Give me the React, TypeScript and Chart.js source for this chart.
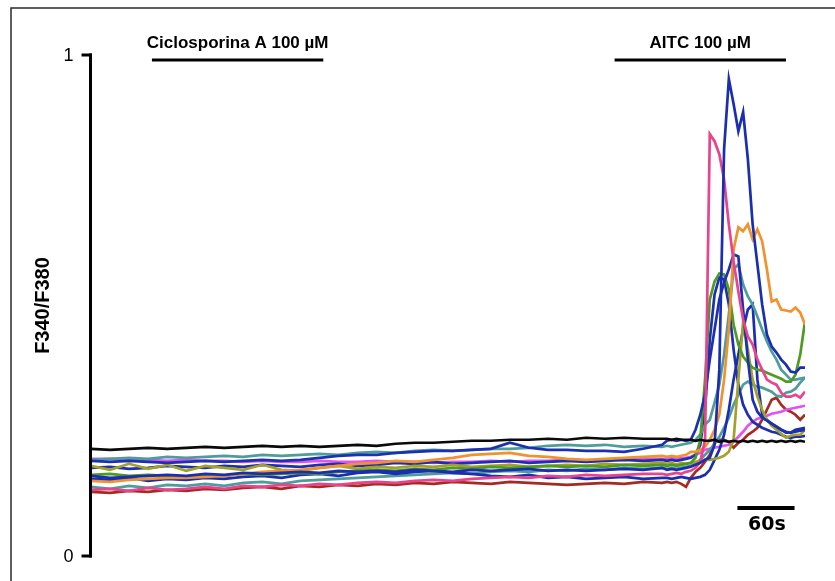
import React, { useEffect, useRef } from "react";
import { Chart, registerables } from "chart.js";

Chart.register(...registerables);

// time in seconds
const TIME = [0,20,40,60,80,100,120,140,160,180,200,220,240,260,280,300,320,340,360,380,400,420,440,460,480,500,520,540,560,580,600,
  605,610,615,620,625,630,635,640,645,650,655,660,665,670,675,680,685,690,695,700,705,710,715,720,725,730,735,740,745,750];

const BLACK = [.214,.212,.214,.216,.214,.216,.218,.216,.218,.220,.218,.220,.218,.220,.222,.220,.224,.226,.226,.228,.230,.230,.232,.232,.234,.232,.236,.234,.236,.234,.234,
  .234,.232,.234,.232,.232,.232,.230,.232,.230,.230,.232,.228,.230,.228,.230,.228,.230,.228,.230,.228,.230,.228,.230,.228,.230,.228,.230,.228,.230,.228];
const TEAL1 = [.192,.194,.196,.194,.198,.196,.198,.200,.198,.202,.200,.202,.204,.202,.206,.208,.206,.210,.212,.210,.212,.214,.214,.216,.220,.222,.220,.222,.218,.220,.218,
  .220,.218,.220,.222,.224,.226,.232,.242,.262,.272,.306,.342,.402,.482,.572,.582,.542,.518,.502,.478,.452,.428,.408,.392,.372,.362,.352,.352,.354,.356];
const MAGENTA = [.194,.194,.192,.192,.190,.192,.190,.190,.188,.190,.188,.188,.190,.188,.188,.190,.188,.188,.186,.188,.188,.190,.188,.190,.190,.192,.190,.192,.192,.194,.194,
  .194,.196,.194,.196,.196,.198,.202,.206,.212,.214,.216,.218,.220,.222,.228,.238,.248,.260,.268,.274,.276,.280,.284,.286,.288,.292,.294,.296,.298,.300];
const BLUE_B = [.190,.188,.190,.188,.186,.188,.190,.188,.190,.192,.190,.192,.196,.200,.202,.202,.206,.208,.210,.210,.212,.214,.226,.216,.212,.212,.210,.210,.208,.214,.222,
  .230,.232,.230,.232,.230,.232,.252,.282,.322,.392,.452,.512,.546,.572,.602,.598,.492,.392,.312,.288,.276,.270,.264,.258,.252,.246,.246,.248,.250,.252];
const OLIVE = [.180,.172,.184,.174,.182,.170,.180,.176,.172,.182,.172,.170,.176,.180,.174,.178,.176,.180,.178,.182,.178,.180,.182,.178,.180,.182,.180,.184,.182,.184,.186,
  .184,.186,.182,.186,.184,.186,.188,.190,.192,.192,.194,.196,.200,.208,.232,.352,.468,.412,.352,.318,.292,.272,.260,.252,.244,.236,.240,.242,.242,.252];
const GREEN = [.162,.164,.160,.162,.160,.158,.162,.160,.164,.162,.164,.166,.164,.168,.170,.172,.170,.174,.172,.176,.174,.178,.176,.178,.180,.178,.180,.178,.182,.180,.182,
  .180,.182,.180,.182,.184,.186,.196,.232,.352,.512,.548,.564,.562,.532,.462,.422,.398,.386,.376,.372,.370,.366,.362,.358,.354,.348,.348,.362,.402,.468];
const BLUE_A = [.160,.156,.158,.160,.162,.160,.164,.162,.166,.164,.166,.168,.166,.170,.168,.170,.168,.172,.170,.168,.172,.170,.172,.174,.170,.172,.170,.172,.174,.172,.176,
  .172,.174,.172,.174,.176,.178,.182,.186,.192,.196,.222,.372,.812,.952,.902,.848,.886,.792,.662,.582,.502,.442,.418,.406,.392,.382,.368,.366,.376,.376];
const ORANGE = [.150,.148,.152,.154,.156,.156,.158,.160,.164,.168,.170,.172,.176,.180,.184,.186,.190,.188,.192,.196,.202,.204,.206,.200,.198,.194,.192,.194,.196,.198,.200,
  .198,.200,.198,.200,.202,.208,.208,.212,.218,.232,.252,.282,.352,.452,.612,.656,.648,.662,.632,.652,.628,.572,.508,.512,.492,.490,.488,.496,.486,.462];
const TEAL2 = [.138,.134,.140,.136,.142,.140,.144,.140,.146,.148,.144,.150,.152,.154,.156,.158,.160,.162,.164,.166,.164,.168,.170,.168,.172,.170,.174,.172,.176,.174,.176,
  .174,.176,.174,.176,.178,.180,.184,.192,.202,.212,.224,.238,.256,.276,.302,.322,.342,.348,.342,.338,.336,.332,.328,.320,.318,.326,.328,.334,.346,.356];
const BLUE_C = [.154,.152,.156,.150,.154,.152,.156,.154,.158,.160,.156,.162,.164,.160,.166,.168,.164,.168,.170,.166,.164,.160,.158,.162,.156,.158,.154,.156,.158,.154,.156,
  .156,.154,.156,.158,.156,.154,.156,.158,.162,.172,.192,.212,.242,.292,.352,.402,.452,.492,.502,.352,.282,.272,.264,.258,.252,.248,.246,.252,.254,.256];
const PINK = [.132,.134,.130,.136,.132,.134,.138,.134,.140,.138,.142,.140,.144,.142,.146,.148,.146,.150,.152,.150,.154,.156,.158,.156,.160,.158,.162,.160,.162,.164,.164,
  .162,.164,.166,.164,.168,.170,.176,.188,.232,.842,.828,.802,.752,.662,.588,.528,.472,.438,.422,.392,.372,.352,.346,.342,.326,.318,.318,.322,.316,.328];
const DARK_RED = [.128,.126,.130,.128,.132,.130,.134,.132,.136,.138,.134,.140,.138,.142,.140,.144,.142,.146,.144,.148,.146,.144,.148,.146,.144,.142,.144,.146,.144,.148,.146,
  .148,.146,.148,.144,.138,.156,.168,.176,.188,.202,.226,.232,.232,.228,.216,.226,.232,.242,.248,.256,.272,.292,.312,.316,.302,.292,.288,.282,.272,.282];
const BLUE_D = [.176,.178,.174,.176,.180,.178,.176,.180,.178,.182,.180,.178,.182,.184,.180,.182,.186,.184,.188,.184,.186,.188,.190,.186,.188,.190,.188,.190,.192,.190,.192,
  .190,.192,.190,.192,.194,.196,.202,.222,.292,.432,.522,.556,.552,.502,.412,.342,.302,.282,.268,.262,.256,.252,.248,.246,.242,.238,.236,.238,.238,.240];

const SERIES = [
  { name: "black", values: BLACK, color: "#0a0a0a" },
  { name: "blueA", values: BLUE_A, color: "#1a2eb0" },
  { name: "pink", values: PINK, color: "#e8448e" },
  { name: "orange", values: ORANGE, color: "#f0922e" },
  { name: "blueB", values: BLUE_B, color: "#1c30b0" },
  { name: "green", values: GREEN, color: "#4f9a22" },
  { name: "teal1", values: TEAL1, color: "#4e9c9c" },
  { name: "olive", values: OLIVE, color: "#a2a22a" },
  { name: "blueC", values: BLUE_C, color: "#1a2eb0" },
  { name: "blueD", values: BLUE_D, color: "#1c30b0" },
  { name: "teal2", values: TEAL2, color: "#4e9c9c" },
  { name: "magenta", values: MAGENTA, color: "#e352ef" },
  { name: "darkRed", values: DARK_RED, color: "#a52a22" },
];

const Y_TICKS = [0, 1];
const Y_TITLE = "F340/F380";
const TREATMENTS = [
  { label: "Ciclosporina A 100 µM", start: 64, end: 244 },
  { label: "AITC 100 µM", start: 550, end: 730 },
];
const TREATMENT_LEVEL = 0.99;
const SCALE_BAR = { start: 679, length: 60, level: 0.096, label: "60s" };

const overlay = {
  id: "overlay",
  afterDraw(chart: any) {
    const ctx = chart.ctx as CanvasRenderingContext2D;
    const xs = chart.scales.x;
    const ys = chart.scales.y;
    ctx.save();
    // frame of the figure
    ctx.strokeStyle = "#2a2a2a";
    ctx.lineWidth = 1.5;
    ctx.beginPath();
    ctx.moveTo(11, chart.height);
    ctx.lineTo(11, 8);
    ctx.lineTo(chart.width, 8);
    ctx.stroke();

    // y axis
    const ax = chart.chartArea.left - 0.5;
    const yTop = ys.getPixelForValue(1);
    const yBot = ys.getPixelForValue(0);
    ctx.strokeStyle = "#000";
    ctx.lineWidth = 3;
    ctx.lineCap = "butt";
    ctx.beginPath();
    ctx.moveTo(ax, yTop - 1.5);
    ctx.lineTo(ax, yBot + 1.5);
    ctx.stroke();
    ctx.fillStyle = "#000";
    ctx.font = '18px "Liberation Sans", Arial, sans-serif';
    ctx.textAlign = "right";
    ctx.textBaseline = "middle";
    for (const t of Y_TICKS) {
      const py = ys.getPixelForValue(t);
      ctx.beginPath();
      ctx.moveTo(ax - 9, py);
      ctx.lineTo(ax + 1.5, py);
      ctx.stroke();
      ctx.fillText(String(t), ax - 17, py + 1);
    }
    // y title
    ctx.save();
    ctx.translate(43, (yTop + yBot) / 2);
    ctx.rotate(-Math.PI / 2);
    ctx.textAlign = "center";
    ctx.font = 'bold 20px "Liberation Sans", Arial, sans-serif';
    ctx.fillText(Y_TITLE, 0, 0);
    ctx.restore();

    // treatment bars
    ctx.font = 'bold 17px "Liberation Sans", Arial, sans-serif';
    ctx.textAlign = "center";
    ctx.textBaseline = "middle";
    for (const tr of TREATMENTS) {
      const x0 = xs.getPixelForValue(tr.start);
      const x1 = xs.getPixelForValue(tr.end);
      const py = ys.getPixelForValue(TREATMENT_LEVEL);
      ctx.lineWidth = 3;
      ctx.beginPath();
      ctx.moveTo(x0, py);
      ctx.lineTo(x1, py);
      ctx.stroke();
      ctx.fillText(tr.label, (x0 + x1) / 2, py - 17);
    }

    // time scale bar
    const sx0 = xs.getPixelForValue(SCALE_BAR.start);
    const sx1 = xs.getPixelForValue(SCALE_BAR.start + SCALE_BAR.length);
    const sy = ys.getPixelForValue(SCALE_BAR.level);
    ctx.lineWidth = 4;
    ctx.beginPath();
    ctx.moveTo(sx0, sy);
    ctx.lineTo(sx1, sy);
    ctx.stroke();
    ctx.font = 'bold 19px "DejaVu Sans", Verdana, sans-serif';
    ctx.fillText(SCALE_BAR.label, (sx0 + sx1) / 2 + 1, sy + 17);
    ctx.restore();
  },
};

export default function App() {
  const ref = useRef<HTMLCanvasElement | null>(null);
  useEffect(() => {
    if (!ref.current) return;
    const chart = new Chart(ref.current, {
      type: "line",
      data: {
        datasets: SERIES.map((s) => ({
          label: s.name,
          data: TIME.map((t, i) => ({ x: t, y: s.values[i] })),
          borderColor: s.color,
          backgroundColor: s.color,
          borderWidth: 2.7,
          pointRadius: 0,
          fill: false,
          tension: 0,
        })),
      },
      options: {
        responsive: false,
        animation: false,
        layout: { padding: { left: 91, right: 30, top: 55, bottom: 25 } },
        scales: {
          x: { type: "linear", min: 0, max: 750, display: false },
          y: { type: "linear", min: 0, max: 1, display: false },
        },
        plugins: { legend: { display: false }, tooltip: { enabled: false } },
      },
      plugins: [overlay],
    });
    return () => chart.destroy();
  }, []);
  return (
    <div style={{ position: "fixed", left: 0, top: 0, width: 835, height: 581, background: "#fff" }}>
      <canvas ref={ref} width={835} height={581} style={{ display: "block" }} />
    </div>
  );
}
